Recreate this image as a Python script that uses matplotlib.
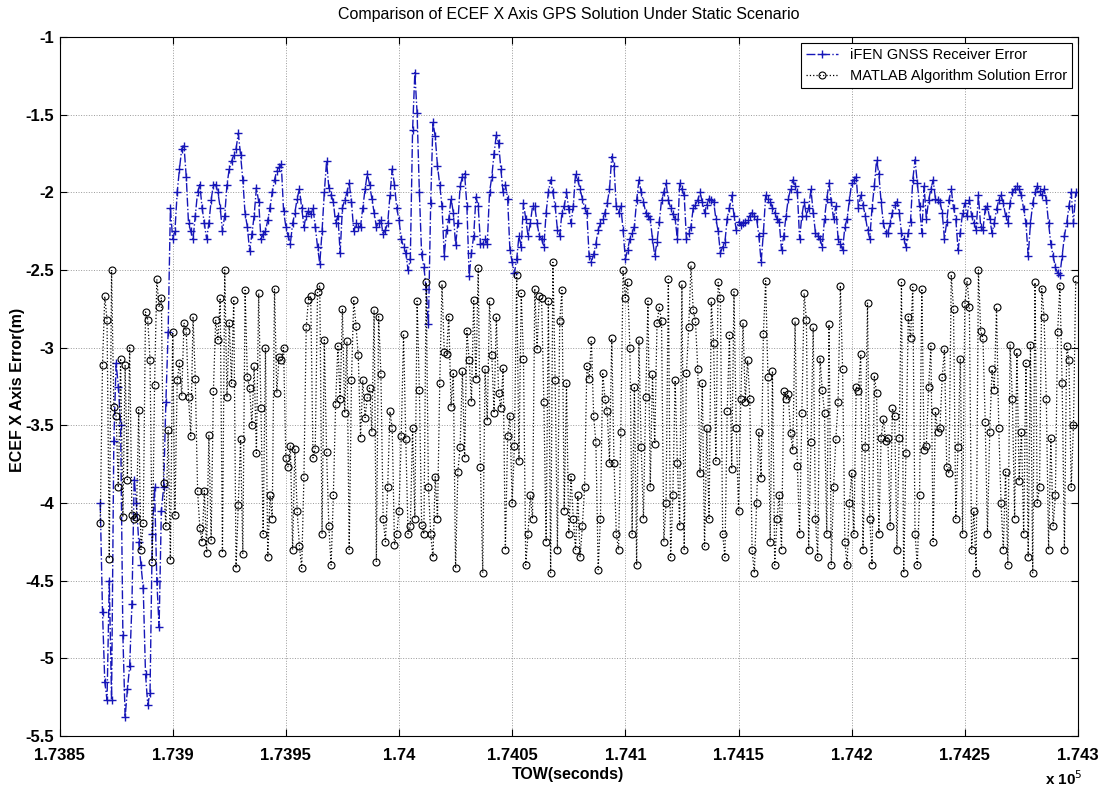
import numpy as np
import matplotlib
matplotlib.use("Agg")
import matplotlib.pyplot as plt

plt.rcParams['font.family'] = ['Liberation Sans', 'DejaVu Sans']

# time of week of the first epoch (seconds), one epoch per second
tow_start = 173868

# iFEN receiver X error (m)
ifen_err = [
    -4.0, -4.7, -5.15, -5.27, -4.5, -5.27, -3.6, -3.1, -3.25, -3.5, -4.85, -5.38, -5.2, -5.05, -4.65, -3.85,
    -4.0, -4.25, -4.4, -4.55, -5.1, -5.3, -5.22, -4.2, -3.9, -4.5, -4.8, -4.05, -3.9, -3.35, -2.9, -2.1,
    -2.3, -2.25, -2.0, -1.85, -1.72, -1.7, -1.9, -2.2, -2.25, -2.3, -2.15, -2.0, -1.95, -2.1, -2.2, -2.3,
    -2.2, -2.05, -1.95, -1.95, -2.0, -2.1, -2.25, -2.15, -1.95, -1.85,
    -1.8, -1.76, -1.72, -1.62, -1.76, -1.92, -2.14, -2.22, -2.38, -2.27, -2.15, -1.97, -2.06, -2.3, -2.27, -2.25,
    -2.18, -2.1, -2.0, -1.92, -1.86, -1.84, -1.82, -2.12, -2.22, -2.28, -2.33, -2.2, -2.13, -2.04, -1.98, -2.1,
    -2.22, -2.15, -2.12, -2.14, -2.1, -2.22, -2.35, -2.46, -2.25, -2.0, -1.8, -1.97, -2.02, -2.06, -2.2, -2.15,
    -2.39, -2.1, -2.05, -2.0, -1.94, -2.06, -2.25, -2.2, -2.22, -2.22, -2.1, -1.98, -1.88, -1.95, -2.04, -2.13,
    -2.22, -2.2, -2.18, -2.27, -2.24, -2.2, -2.02, -1.85, -1.95, -2.1,
    -2.18, -2.3, -2.35, -2.39, -2.5, -2.43, -1.6, -1.23, -1.49, -2.0, -2.4, -2.48, -2.62, -2.85, -2.07, -1.55,
    -1.64, -1.83, -1.95, -2.09, -2.41, -2.24, -2.17, -2.04, -2.13, -2.34, -2.2, -1.96, -1.9, -1.88, -2.09, -2.54,
    -2.39, -2.28, -2.03, -2.09, -2.33, -2.33, -2.3, -2.33, -2.0, -1.9, -1.75, -1.63, -1.68, -1.85, -2.0, -1.95,
    -2.04, -2.37, -2.45, -2.52, -2.43, -2.28, -2.35, -2.07, -2.17, -2.28, -2.2, -2.09, -2.09, -2.2, -2.28, -2.3,
    -2.35, -2.13, -2.0, -1.92, -2.0, -2.09, -2.24, -2.28, -2.13, -2.09, -2.0, -2.11, -2.2, -2.09, -1.88, -1.92,
    -1.98, -2.04, -2.1, -2.13, -2.41, -2.45, -2.4, -2.33, -2.24, -2.2, -2.17, -2.13, -2.07, -1.98, -1.77, -1.83,
    -2.09,
    -2.13, -2.09, -2.24, -2.43, -2.37, -2.3, -2.26, -2.22, -2.05, -1.92, -2.0, -2.06, -2.13, -2.15, -2.17, -2.3,
    -2.41, -2.32, -2.19, -2.05, -2.0, -1.94, -2.05, -2.1, -2.14, -2.17, -2.3, -1.94, -1.98, -2.02, -2.3, -2.26,
    -2.22, -2.1, -2.08, -2.05, -2.0, -2.06, -2.13, -2.08, -2.04, -2.05, -2.06, -2.17, -2.25, -2.39, -2.35, -2.32,
    -2.17, -2.1, -2.02, -2.15, -2.24, -2.19, -2.21, -2.2, -2.19, -2.18, -2.15, -2.13, -2.15, -2.17, -2.28, -2.45,
    -2.26, -2.02, -2.04, -2.06, -2.1, -2.13, -2.17, -2.19, -2.37, -2.28, -2.15, -2.04, -1.98, -1.92, -1.96, -2.0,
    -2.3, -2.15, -2.06, -2.15,
    -2.1, -1.98, -2.13, -2.26, -2.28, -2.3, -2.35, -2.17, -2.04, -1.94, -2.06, -2.17, -2.09, -2.3, -2.33, -2.37,
    -2.22, -2.17, -2.05, -1.94, -1.92, -1.9, -2.1, -2.02, -2.08, -2.15, -2.24, -2.3, -2.1, -1.96, -1.79, -1.88,
    -2.06, -2.2, -2.26, -2.26, -2.2, -2.13, -2.08, -2.06, -2.13, -2.26, -2.3, -2.35, -2.26, -2.19, -1.92, -1.79,
    -1.94, -2.09, -2.26, -1.96, -2.17, -2.05, -1.98, -1.92, -2.04, -2.05, -2.06, -2.13, -2.3, -2.19, -2.05, -1.98,
    -2.1, -2.17, -2.37, -2.26, -2.13, -2.07, -2.15, -2.05, -2.15, -2.2, -2.24, -2.02, -2.22, -2.24, -2.11, -2.09,
    -2.17, -2.26, -2.2, -2.11, -2.05, -2.02, -2.07, -2.15, -2.2, -2.07, -2.0, -1.98, -1.96, -1.98, -2.02, -2.11,
    -2.2, -2.41, -2.2, -2.07, -2.0, -1.96, -1.99, -2.02, -1.98, -2.05, -2.2, -2.33, -2.41, -2.48, -2.52, -2.53,
    -2.41, -2.28, -2.2, -2.09, -2.0, -2.2, -2.0,
]

# MATLAB algorithm X error (m)
matlab_err = [
    -4.13, -3.11, -2.67, -2.82, -4.36, -2.5, -3.38, -3.44, -3.9, -3.07, -4.09, -3.11, -3.85, -3.0, -4.08, -4.1,
    -4.09, -3.4, -4.3, -4.13, -2.77, -2.82, -3.08, -4.38, -3.24, -2.56, -2.74, -2.68, -3.87, -4.15, -3.53, -4.37,
    -2.9, -4.08, -3.21, -3.1, -3.31, -2.84, -2.89, -3.32, -3.57, -2.8, -3.2, -3.92, -4.16, -4.25, -3.92, -4.32,
    -3.56, -4.24, -3.28, -2.82, -2.95, -2.68, -4.32, -2.5, -3.32, -2.84, -3.23, -2.69, -4.42, -4.01, -3.59, -4.33,
    -2.63, -3.19, -3.26,
    -3.5, -3.12, -3.68, -2.65, -3.39, -4.2, -3.0, -4.35, -3.95, -4.1, -2.62, -3.29, -3.06, -3.08, -3.0, -3.71,
    -3.77, -3.63, -4.3, -3.65, -4.05, -4.28, -4.42, -3.83, -2.87, -2.69, -2.67, -3.71, -3.65, -2.64, -2.6, -4.2,
    -2.95, -3.67, -4.15, -4.4, -3.95, -3.36, -2.99, -3.33, -2.75, -3.42, -2.96, -4.3, -3.21, -2.69, -2.86, -3.05,
    -3.58, -3.21, -3.45, -3.32, -3.26, -3.54, -2.76, -4.38, -2.8, -3.17, -4.1, -4.25, -3.9, -3.41, -3.52, -4.27,
    -4.2, -4.05, -3.57, -2.91, -3.59, -4.2, -4.15, -3.52, -4.1, -2.7, -3.27, -4.14, -4.2, -2.58,
    -3.9, -4.2, -4.35, -3.83, -4.1, -3.23, -2.59, -3.03, -3.04, -2.8, -3.38, -3.16, -4.42, -3.8, -3.64, -3.15,
    -3.71, -2.89, -3.08, -3.35, -2.69, -3.2, -2.49, -3.77, -4.45, -3.14, -3.47, -2.7, -3.05, -3.42, -2.8, -3.29,
    -3.39, -3.13, -4.3, -3.57, -3.44, -4.0, -3.63, -2.53, -3.73, -2.65, -3.07, -4.4, -4.2, -3.95, -4.1, -2.62,
    -3.01, -2.67, -2.68, -3.35, -4.25, -2.7, -4.45, -2.45, -3.21, -4.3, -2.83, -2.63, -4.05, -3.23, -4.2, -3.83,
    -4.1, -4.3, -3.95, -4.35, -4.15, -3.9, -3.12, -3.2, -2.95, -3.44, -3.61, -4.43, -4.1, -3.16, -3.33, -3.41,
    -3.74, -2.94, -3.74, -4.2,
    -4.3, -3.54, -2.5, -2.68, -2.58, -3.0, -4.2, -3.25, -4.4, -2.95, -3.64, -4.1, -3.32, -2.7, -3.9, -3.17,
    -3.62, -2.84, -2.74, -2.83, -4.25, -4.0, -2.56, -4.35, -3.95, -3.21, -3.74, -4.15, -2.59, -4.3, -3.16, -2.87,
    -2.47, -2.76, -2.83, -3.14, -3.81, -3.23, -4.28, -3.52, -4.1, -2.7, -2.97, -3.73, -2.58, -2.68, -4.2, -4.35,
    -3.41, -2.92, -3.78, -2.64, -3.52, -4.05, -3.33, -2.84, -3.35, -3.08, -3.33, -4.3, -4.45, -4.0, -3.54, -3.84,
    -2.91, -2.57, -3.19, -4.25, -3.15, -4.4, -4.1, -3.95, -4.3, -3.28, -3.33, -3.3, -3.55, -3.66, -2.83, -3.76,
    -4.2, -3.42, -2.65, -2.82,
    -4.3, -3.61, -2.87, -4.1, -4.35, -3.07, -3.27, -3.42, -4.2, -2.85, -4.4, -3.9, -3.59, -3.35, -2.6, -3.14,
    -4.25, -4.4, -4.0, -3.81, -4.2, -3.25, -3.28, -3.04, -4.3, -3.64, -2.71, -4.1, -4.4, -3.18, -3.29, -4.2,
    -3.58, -3.46, -3.6, -3.58, -4.15, -3.39, -3.44, -4.3, -3.58, -2.58, -4.45, -3.68, -2.8, -2.94, -2.61, -4.2,
    -4.4, -3.95, -2.62, -3.66, -3.63, -3.25, -2.99, -4.25, -3.41, -3.54, -3.52, -3.19, -3.01, -3.77, -3.81, -2.53,
    -2.75, -4.1, -3.64, -3.07, -4.2, -2.72, -2.57, -2.74, -4.3, -4.05, -4.45, -2.5, -2.89, -2.94, -3.48, -4.2,
    -3.54, -3.14, -3.27, -2.74, -3.52, -4.0, -4.3, -3.8, -4.4, -2.98, -3.33, -4.1, -3.03, -3.86, -3.54, -4.2,
    -3.1, -4.35, -2.98, -4.45, -2.58, -4.0, -3.9, -2.62, -2.8, -3.33, -4.3, -3.58, -4.15, -3.95, -2.9, -2.6,
    -3.23, -4.3, -2.99, -3.08, -3.9, -3.5, -2.56,
]

x_ticks = [173850, 173900, 173950, 174000, 174050, 174100, 174150, 174200, 174250, 174300]
x_tick_labels = ['1.7385', '1.739', '1.7395', '1.74', '1.7405', '1.741', '1.7415', '1.742', '1.7425', '1.743']
y_ticks = [-5.5, -5, -4.5, -4, -3.5, -3, -2.5, -2, -1.5, -1]
y_tick_labels = ['-5.5', '-5', '-4.5', '-4', '-3.5', '-3', '-2.5', '-2', '-1.5', '-1']

tow_ifen = tow_start + np.arange(len(ifen_err))
tow_matlab = tow_start + np.arange(len(matlab_err))

W, H = 1101, 789
fig = plt.figure(figsize=(W / 100, H / 100), dpi=100)
ax = fig.add_axes([59.5 / W, 1 - 736 / H, (1078 - 59.5) / W, (736 - 37) / H])

ax.plot(tow_ifen, ifen_err, color='#1616b8', linestyle='-.', linewidth=1.0,
        marker='+', markersize=6, markeredgewidth=1.0, label='iFEN GNSS Receiver Error')
ax.plot(tow_matlab, matlab_err, color='black', linestyle=':', linewidth=0.9,
        marker='o', markersize=5, markerfacecolor='none', markeredgewidth=0.8,
        label='MATLAB Algorithm Solution Error')

ax.set_xlim(173850, 174300)
ax.set_ylim(-5.5, -1)
ax.set_xticks(x_ticks)
ax.set_xticklabels(x_tick_labels, fontsize=12, fontweight='bold')
ax.set_yticks(y_ticks)
ax.set_yticklabels(y_tick_labels, fontsize=12, fontweight='bold')
ax.tick_params(direction='in', top=True, right=True, length=5, width=0.8, pad=4)
ax.tick_params(axis='x', pad=9)
ax.grid(True, linestyle=':', color='#9a9a9a', linewidth=0.7)
for s in ax.spines.values():
    s.set_linewidth(0.8)

leg = ax.legend(loc='upper right', fontsize=10.5, fancybox=False, framealpha=1,
                edgecolor='black', borderpad=0.35, handlelength=2.2, labelspacing=0.5,
                borderaxespad=0.4)
leg.get_frame().set_linewidth(0.8)

fig.text(0.517, 1 - 15 / H, 'Comparison of ECEF X Axis GPS Solution Under Static Scenario',
         ha='center', va='center', fontsize=11.5)
fig.text(18 / W, 1 - 390 / H, 'ECEF X Axis Error(m)', rotation=90, ha='center', va='center',
         fontsize=11.5, fontweight='bold')
fig.text(568 / W, 1 - 774 / H, 'TOW(seconds)', ha='center', va='center', fontsize=11.5, fontweight='bold')
fig.text(1045 / W, 1 - 779 / H, r'x 10$^{5}$', ha='left', va='center', fontsize=11, fontweight='bold')

fig.savefig('out.png', dpi=100)
